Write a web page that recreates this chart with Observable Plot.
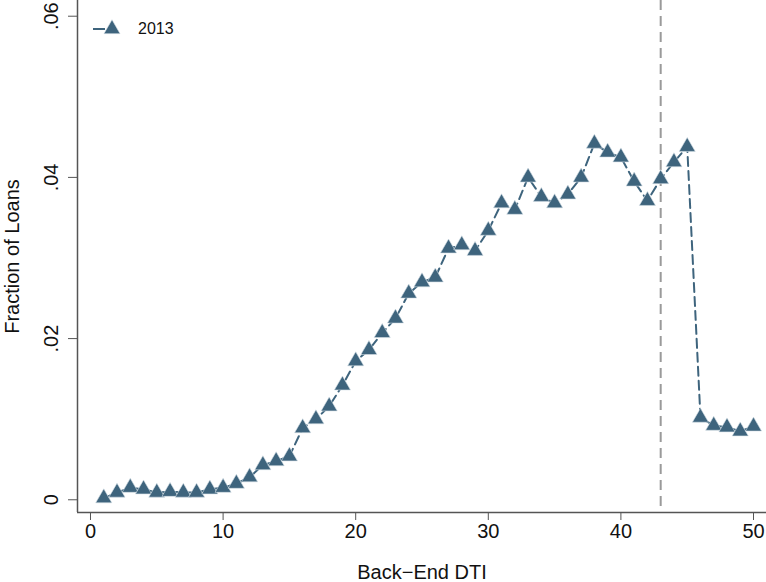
<!DOCTYPE html>
<html>
<head>
<meta charset="utf-8">
<script src="https://cdn.jsdelivr.net/npm/d3@7"></script>
<script src="https://cdn.jsdelivr.net/npm/@observablehq/plot@0.6"></script>
<style>
  body { margin: 0; background: #fff; }
  #wrap { position: relative; width: 766px; height: 582px; font-family: "Liberation Sans", Arial, Helvetica, sans-serif; }
  #legend { position: absolute; left: 90px; top: 17px; display: flex; align-items: center; font-size: 16px; color: #111; }
  #legend span { margin-left: 8px; }
</style>
</head>
<body>
<div id="wrap"></div>
<script>
// Data
const dti = [1,2,3,4,5,6,7,8,9,10,11,12,13,14,15,16,17,18,19,20,21,22,23,24,25,26,27,28,29,30,31,32,33,34,35,36,37,38,39,40,41,42,43,44,45,46,47,48,49,50];
const fraction2013 = [0.0002,0.0009,0.0015,0.0013,0.0009,0.0010,0.0009,0.0009,0.0013,0.0015,
  0.0020,0.0028,0.0043,0.0048,0.0054,0.0089,0.0100,0.0116,0.0142,0.0172,
  0.0186,0.0207,0.0225,0.0256,0.0270,0.0276,0.0312,0.0316,0.0309,0.0334,
  0.0368,0.0360,0.0400,0.0376,0.0368,0.0379,0.0400,0.0442,0.0431,0.0425,
  0.0395,0.0371,0.0398,0.0419,0.0438,0.0102,0.0092,0.0090,0.0085,0.0091];
const seriesName = "2013";
const cutoff = [43];
const xTicks = [0,10,20,30,40,50];
const yTicks = [0,0.02,0.04,0.06];
const yTickLabels = ["0",".02",".04",".06"];
const xDomain = [-0.98, 50.98];
const yDomain = [-0.00158, 0.06195];

const color = "#3e647d";
const data = dti.map((d, i) => ({dti: d, frac: fraction2013[i]}));

const chart = Plot.plot({
  width: 766,
  height: 582,
  marginLeft: 77,
  marginRight: 0,
  marginTop: 0,
  marginBottom: 70,
  style: {fontFamily: "\"Liberation Sans\", Arial, Helvetica, sans-serif", fontSize: "20px", color: "#111", background: "#fff"},
  x: {domain: xDomain},
  y: {domain: yDomain},
  marks: [
    Plot.ruleX(cutoff, {stroke: "#9a9a9a", strokeWidth: 2, strokeDasharray: "10,6"}),
    Plot.line(data, {x: "dti", y: "frac", stroke: color, strokeWidth: 2, strokeDasharray: "9,5"}),
    Plot.dot(data, {x: "dti", y: "frac", symbol: "triangle", r: 6, fill: color, stroke: "#d6e0e8", strokeWidth: 0.6}),
    Plot.ruleY([yDomain[0]], {stroke: "#555", strokeWidth: 1.5}),
    Plot.ruleX([xDomain[0]], {stroke: "#555", strokeWidth: 1.5}),
    Plot.axisX({ticks: xTicks, tickSize: 8, tickPadding: 3, stroke: "#555", fontSize: 20,
      label: "Back\u2212End DTI", labelAnchor: "center", labelArrow: "none", labelOffset: 66}),
    Plot.axisY({ticks: yTicks, tickFormat: (d, i) => yTickLabels[yTicks.indexOf(d)], tickSize: 9, tickPadding: 11,
      tickRotate: -90, stroke: "#555", fontSize: 20,
      label: "Fraction of Loans", labelAnchor: "center", labelArrow: "none", labelOffset: 73})
  ]
});

const wrap = document.getElementById("wrap");
wrap.appendChild(chart);

// Legend
const legend = document.createElement("div");
legend.id = "legend";
legend.innerHTML = `<svg width="40" height="24">
  <line x1="3" y1="12" x2="40" y2="12" stroke="${color}" stroke-width="2" stroke-dasharray="12,5,3,20"></line>
  <path d="${d3.symbol(d3.symbolTriangle, 113)()}" transform="translate(22,12)" fill="${color}" stroke="#d6e0e8" stroke-width="0.6"></path>
</svg><span>${seriesName}</span>`;
wrap.appendChild(legend);
</script>
</body>
</html>
